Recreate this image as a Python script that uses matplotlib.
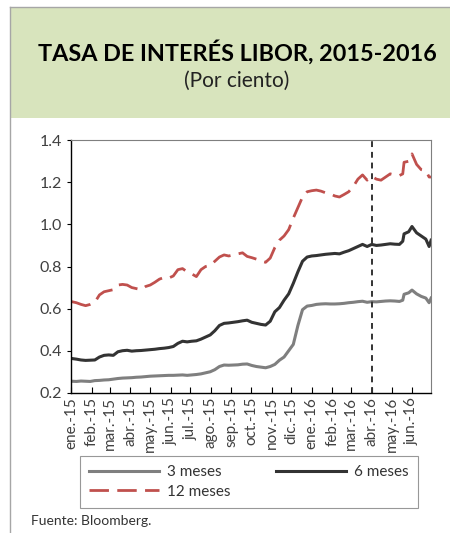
import numpy as np
import pandas as pd
import matplotlib
matplotlib.use("Agg")
import matplotlib.pyplot as plt
from matplotlib.patches import Rectangle
from matplotlib.lines import Line2D

plt.rcParams['font.family'] = ['Lato', 'DejaVu Sans']

# --- Datos (aprox. semanales) ---
fechas = [
    "2015-01-02", "2015-01-09", "2015-01-16", "2015-01-23", "2015-01-30",
    "2015-02-06", "2015-02-13", "2015-02-20", "2015-02-27",
    "2015-03-06", "2015-03-13", "2015-03-20", "2015-03-27",
    "2015-04-03", "2015-04-10", "2015-04-17", "2015-04-24",
    "2015-05-01", "2015-05-08", "2015-05-15", "2015-05-22", "2015-05-29",
    "2015-06-05", "2015-06-12", "2015-06-19", "2015-06-26",
    "2015-07-03", "2015-07-10", "2015-07-17", "2015-07-24", "2015-07-31",
    "2015-08-07", "2015-08-14", "2015-08-21", "2015-08-28",
    "2015-09-04", "2015-09-11", "2015-09-18", "2015-09-25",
    "2015-10-02", "2015-10-09", "2015-10-16", "2015-10-23", "2015-10-30",
    "2015-11-06", "2015-11-13", "2015-11-20", "2015-11-27",
    "2015-12-04", "2015-12-11", "2015-12-18", "2015-12-25",
    "2016-01-01", "2016-01-08", "2016-01-15", "2016-01-22", "2016-01-29",
    "2016-02-05", "2016-02-12", "2016-02-19", "2016-02-26",
    "2016-03-04", "2016-03-11", "2016-03-18", "2016-03-25",
    "2016-04-01", "2016-04-08", "2016-04-15", "2016-04-22", "2016-04-29",
    "2016-05-06", "2016-05-13", "2016-05-18", "2016-05-20", "2016-05-27",
    "2016-06-01", "2016-06-08", "2016-06-15", "2016-06-22", "2016-06-27",
    "2016-06-30",
]

tres_meses = [
    0.255, 0.254, 0.256, 0.255, 0.254,
    0.258, 0.259, 0.261, 0.262,
    0.265, 0.268, 0.270, 0.271,
    0.272, 0.274, 0.275, 0.277,
    0.279, 0.280, 0.281, 0.282, 0.283,
    0.283, 0.284, 0.285, 0.283,
    0.285, 0.287, 0.290, 0.295, 0.300,
    0.310, 0.325, 0.332, 0.331,
    0.332, 0.333, 0.336, 0.337,
    0.330, 0.325, 0.322, 0.319, 0.325,
    0.335, 0.355, 0.370, 0.400,
    0.430, 0.520, 0.595, 0.612,
    0.615, 0.620, 0.622, 0.623, 0.622,
    0.622, 0.623, 0.625, 0.628,
    0.630, 0.633, 0.635, 0.630,
    0.633, 0.632, 0.634, 0.636, 0.637,
    0.636, 0.634, 0.640, 0.668, 0.675,
    0.688, 0.670, 0.658, 0.650, 0.628,
    0.650,
]

seis_meses = [
    0.363, 0.360, 0.356, 0.354, 0.355,
    0.356, 0.370, 0.378, 0.380,
    0.378, 0.395, 0.400, 0.402,
    0.398, 0.400, 0.401, 0.403,
    0.405, 0.407, 0.410, 0.412, 0.415,
    0.420, 0.435, 0.445, 0.442,
    0.445, 0.447, 0.455, 0.465, 0.475,
    0.495, 0.520, 0.530, 0.532,
    0.535, 0.538, 0.542, 0.545,
    0.535, 0.530, 0.525, 0.522, 0.540,
    0.585, 0.605, 0.640, 0.670,
    0.720, 0.775, 0.825, 0.845,
    0.850, 0.852, 0.855, 0.858, 0.860,
    0.862, 0.860, 0.868, 0.875,
    0.885, 0.895, 0.905, 0.895,
    0.905, 0.900, 0.902, 0.905, 0.908,
    0.906, 0.905, 0.920, 0.955, 0.965,
    0.990, 0.960, 0.945, 0.930, 0.895,
    0.925,
]

doce_meses = [
    0.633, 0.628, 0.620, 0.614, 0.620,
    0.630, 0.665, 0.680, 0.685,
    0.690, 0.712, 0.715, 0.712,
    0.700, 0.695, 0.690, 0.705,
    0.712, 0.725, 0.740, 0.748, 0.745,
    0.755, 0.785, 0.790, 0.775,
    0.765, 0.752, 0.785, 0.800, 0.805,
    0.825, 0.845, 0.855, 0.850,
    0.855, 0.860, 0.865, 0.848,
    0.842, 0.835, 0.825, 0.820, 0.840,
    0.890, 0.925, 0.945, 0.975,
    1.030, 1.080, 1.130, 1.155,
    1.160, 1.163, 1.158, 1.150, 1.145,
    1.135, 1.130, 1.142, 1.155,
    1.180, 1.215, 1.235, 1.210,
    1.228, 1.215, 1.210, 1.225, 1.240,
    1.235, 1.232, 1.240, 1.295, 1.300,
    1.335, 1.285, 1.260, 1.255, 1.225,
    1.225,
]

meses = ["ene.-15", "feb.-15", "mar.-15", "abr.-15", "may.-15", "jun.-15",
         "jul.-15", "ago.-15", "sep.-15", "oct.-15", "nov.-15", "dic.-15",
         "ene.-16", "feb.-16", "mar.-16", "abr.-16", "may.-16", "jun.-16"]

fechas = pd.to_datetime(fechas)
ticks = pd.date_range("2015-01-01", periods=len(meses), freq="MS")

# --- Figura ---
fig = plt.figure(figsize=(4.5, 5.33), dpi=100)

# encabezado verde
fig.patches.append(Rectangle((0.022, 0.779), 0.99, 0.208, transform=fig.transFigure,
                             facecolor="#d8e4bd", edgecolor="none", zorder=0))
fig.add_artist(Line2D([0.022, 1.0], [0.987, 0.987], transform=fig.transFigure,
                      color="#a6a6a6", lw=1))
fig.add_artist(Line2D([0.022, 0.022], [0.0, 0.987], transform=fig.transFigure,
                      color="#a6a6a6", lw=1))

fig.text(0.527, 0.902, "TASA DE INTERÉS LIBOR, 2015-2016", ha="center", va="center",
         fontsize=16.8, fontweight="bold", color="black")
fig.text(0.527, 0.849, "(Por ciento)", ha="center", va="center",
         fontsize=15, color="#222222")

ax = fig.add_axes([0.158, 0.263, 0.8, 0.474])
l3, = ax.plot(fechas, tres_meses, color="#7f7f7f", lw=2.2, label="3 meses")
l6, = ax.plot(fechas, seis_meses, color="#333333", lw=2.2, label="6 meses")
l12, = ax.plot(fechas, doce_meses, color="#c0504d", lw=2.0, dashes=(7, 3),
               label="12 meses")
ax.axvline(pd.Timestamp("2016-04-01"), color="#333333", lw=1.4, dashes=(3, 2.5))

ax.set_ylim(0.2, 1.4)
ax.set_yticks(np.arange(0.2, 1.41, 0.2))
ax.yaxis.set_major_formatter(plt.FormatStrFormatter("%.1f"))
ax.set_xlim(pd.Timestamp("2015-01-01"), pd.Timestamp("2016-06-30"))
ax.set_xticks(ticks)
ax.set_xticklabels(meses, rotation=90)

ax.tick_params(axis="x", direction="in", length=4, labelsize=11, colors="#404040",
               pad=3)
ax.tick_params(axis="y", direction="out", length=3, labelsize=11.5, colors="#404040")
ax.tick_params(axis="both", color="black")
for s in ["left", "bottom"]:
    ax.spines[s].set_color("black")
    ax.spines[s].set_linewidth(1.0)
for s in ["top", "right"]:
    ax.spines[s].set_color("#7f7f7f")
    ax.spines[s].set_linewidth(0.8)

leg = fig.legend(handles=[l3, l12, l6], ncol=2, loc="center",
                 bbox_to_anchor=(0.553, 0.096),
                 fontsize=11, handlelength=4.6, handletextpad=0.5,
                 columnspacing=3.0, borderpad=0.6,
                 frameon=True, fancybox=False,
                 labelspacing=0.35)
leg.get_frame().set_edgecolor("#7f7f7f")
leg.get_frame().set_linewidth(0.8)
for t in leg.get_texts():
    t.set_color("#333333")

fig.text(0.069, 0.022, "Fuente: Bloomberg.", fontsize=10, color="#333333",
         va="center")

fig.savefig("out.png", dpi=100)
